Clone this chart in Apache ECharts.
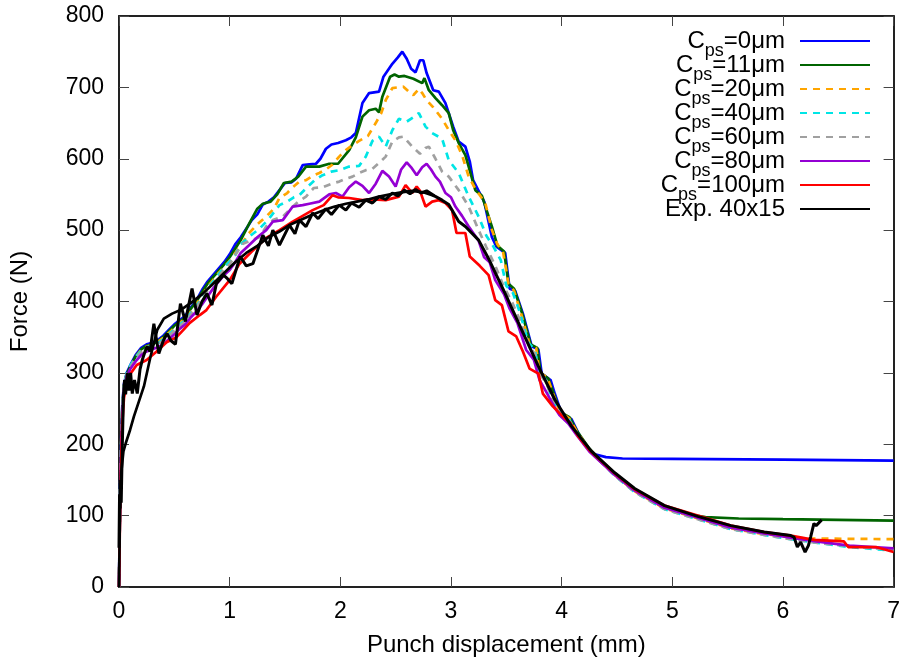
<!DOCTYPE html>
<html>
<head>
<meta charset="utf-8">
<script src="https://cdn.jsdelivr.net/npm/echarts@6/dist/echarts.min.js"></script>
<style>html,body{margin:0;padding:0;background:#fff}#c{width:903px;height:663px}</style>
</head>
<body>
<div id="c"></div>
<script>
const xTicks = [0,1,2,3,4,5,6,7];
const yTicks = [0,100,200,300,400,500,600,700,800];
const seriesNames = ['Cps=0μm','Cps=11μm','Cps=20μm','Cps=40μm','Cps=60μm','Cps=80μm','Cps=100μm','Exp. 40x15'];

const cps0 = [[0,0],[0.005,70],[0.01,140],[0.02,210],[0.03,255],[0.045,285],[0.07,300],[0.1,310],[0.15,325],[0.2,335],[0.25,340],[0.3,342],[0.35,346],[0.4,352],[0.45,360],[0.5,368],[0.55,374],[0.6,380],[0.65,392],[0.7,402],[0.75,416],[0.8,428],[0.85,437],[0.9,446],[0.95,455],[1.0,466],[1.05,480],[1.1,490],[1.15,502],[1.2,514],[1.25,522],[1.3,536],[1.35,540],[1.4,546],[1.45,556],[1.5,566],[1.56,567],[1.6,572],[1.66,591],[1.72,592],[1.78,593],[1.82,600],[1.87,614],[1.92,620],[1.98,622],[2.05,626],[2.1,630],[2.14,636],[2.2,678],[2.26,692],[2.35,694],[2.39,715],[2.47,733],[2.52,742],[2.56,750],[2.6,740],[2.64,726],[2.68,721],[2.72,738],[2.75,738],[2.78,720],[2.84,696],[2.89,694],[2.95,678],[3.02,645],[3.07,624],[3.13,617],[3.17,596],[3.2,570],[3.26,552],[3.3,540],[3.37,490],[3.41,477],[3.49,468],[3.53,418],[3.58,415],[3.65,383],[3.73,337],[3.79,333],[3.82,299],[3.9,290],[3.94,270],[4.0,243],[4.09,235],[4.15,216],[4.22,197],[4.3,186],[4.4,182],[4.55,180],[5,179.5],[6,178.5],[7,177]];
const cps11 = [[0,0],[0.005,65],[0.01,135],[0.02,205],[0.03,252],[0.045,283],[0.07,298],[0.1,308],[0.15,323],[0.2,333],[0.25,338],[0.3,340],[0.35,344],[0.4,350],[0.45,358],[0.5,366],[0.55,372],[0.6,378],[0.65,390],[0.7,400],[0.75,413],[0.8,425],[0.85,434],[0.9,443],[0.95,452],[1.0,462],[1.05,474],[1.1,486],[1.18,510],[1.25,530],[1.3,537],[1.37,540],[1.43,550],[1.49,566],[1.56,568],[1.62,575],[1.69,589],[1.81,589],[1.9,593],[1.98,593],[2.08,612],[2.14,630],[2.2,659],[2.26,668],[2.32,670],[2.35,665],[2.38,687],[2.45,715],[2.49,718],[2.53,715],[2.58,716],[2.66,712],[2.74,706],[2.76,713],[2.8,696],[2.86,685],[2.92,675],[2.98,664],[3.02,640],[3.07,622],[3.13,605],[3.16,589],[3.22,556],[3.28,548],[3.37,505],[3.42,478],[3.48,470],[3.52,425],[3.57,418],[3.64,385],[3.72,340],[3.78,335],[3.81,300],[3.88,292],[3.93,270],[3.99,245],[4.07,238],[4.14,218],[4.25,194],[4.4,170],[4.66,136],[4.93,112],[5.1,103],[5.3,98],[5.6,96],[6,95],[6.5,94],[7,93]];
const cps20 = [[0,0],[0.005,65],[0.01,135],[0.02,205],[0.03,250],[0.045,282],[0.07,298],[0.1,308],[0.15,322],[0.2,332],[0.25,337],[0.3,339],[0.35,343],[0.4,349],[0.45,356],[0.5,363],[0.55,370],[0.6,376],[0.65,386],[0.7,396],[0.75,408],[0.8,420],[0.85,430],[0.9,440],[0.95,448],[1.0,457],[1.05,468],[1.1,478],[1.17,495],[1.25,508],[1.33,519],[1.4,530],[1.45,545],[1.52,552],[1.57,560],[1.63,568],[1.69,570],[1.75,576],[1.81,580],[1.87,585],[1.93,592],[1.99,603],[2.05,612],[2.1,618],[2.17,625],[2.25,632],[2.32,650],[2.37,664],[2.41,682],[2.47,699],[2.52,700],[2.57,701],[2.62,694],[2.66,689],[2.71,698],[2.74,692],[2.78,682],[2.84,672],[2.92,656],[2.98,640],[3.04,626],[3.1,605],[3.16,575],[3.22,558],[3.31,538],[3.37,500],[3.42,480],[3.47,470],[3.52,425],[3.57,415],[3.63,385],[3.71,340],[3.77,335],[3.80,300],[3.87,294],[3.92,272],[3.98,246],[4.07,236],[4.14,217],[4.25,193],[4.48,157],[4.66,134],[4.93,110],[5.23,96],[5.53,82],[5.83,74],[6.07,70],[6.2,68],[7,67]];
const cps40 = [[0,0],[0.005,62],[0.01,130],[0.02,200],[0.03,248],[0.045,281],[0.07,300],[0.1,310],[0.15,322],[0.2,331],[0.25,336],[0.3,338],[0.35,341],[0.4,347],[0.45,354],[0.5,361],[0.55,368],[0.6,374],[0.65,384],[0.7,394],[0.75,405],[0.8,418],[0.85,428],[0.9,438],[0.95,448],[1.0,456],[1.05,465],[1.1,480],[1.17,490],[1.27,502],[1.35,515],[1.45,535],[1.52,540],[1.58,546],[1.63,549],[1.7,560],[1.77,570],[1.84,577],[1.92,582],[1.99,584],[2.08,589],[2.17,590],[2.23,603],[2.29,625],[2.35,631],[2.41,617],[2.47,640],[2.53,656],[2.6,652],[2.66,658],[2.71,664],[2.77,645],[2.83,636],[2.92,628],[2.98,598],[3.07,580],[3.16,547],[3.25,519],[3.32,492],[3.38,478],[3.45,458],[3.5,422],[3.56,412],[3.62,386],[3.7,342],[3.76,332],[3.79,302],[3.85,292],[3.9,270],[3.97,246],[4.07,234],[4.14,215],[4.25,192],[4.48,156],[4.66,133],[4.93,109],[5.23,95],[5.53,81],[5.83,73],[6.07,67],[6.3,62],[6.6,56],[7,51]];
const cps60 = [[0,0],[0.005,62],[0.01,128],[0.02,198],[0.03,246],[0.045,280],[0.07,298],[0.1,308],[0.15,320],[0.2,329],[0.25,334],[0.3,336],[0.35,340],[0.4,345],[0.45,352],[0.5,359],[0.55,366],[0.6,372],[0.65,382],[0.7,392],[0.75,403],[0.8,415],[0.85,425],[0.9,435],[0.95,445],[1.0,452],[1.05,465],[1.12,481],[1.2,486],[1.27,490],[1.33,505],[1.39,514],[1.48,519],[1.55,530],[1.62,540],[1.69,547],[1.76,559],[1.84,560],[1.92,565],[1.99,568],[2.05,572],[2.11,575],[2.17,580],[2.23,584],[2.29,586],[2.35,594],[2.41,603],[2.47,624],[2.53,630],[2.57,631],[2.65,617],[2.72,607],[2.77,615],[2.80,617],[2.86,600],[2.92,582],[2.98,575],[3.07,556],[3.16,533],[3.25,500],[3.32,476],[3.4,450],[3.48,420],[3.55,400],[3.62,375],[3.7,340],[3.76,326],[3.8,299],[3.86,286],[3.92,263],[3.99,243],[4.07,232],[4.14,214],[4.25,191],[4.48,156],[4.66,133],[4.93,109],[5.23,95],[5.53,81],[5.83,73],[6.07,67],[6.3,62],[6.6,57],[7,52]];
const cps80 = [[0,0],[0.005,60],[0.01,125],[0.02,195],[0.03,243],[0.045,278],[0.07,295],[0.1,305],[0.15,316],[0.2,325],[0.25,330],[0.3,333],[0.35,336],[0.4,340],[0.45,347],[0.5,354],[0.55,362],[0.6,368],[0.65,378],[0.7,386],[0.75,396],[0.8,407],[0.85,418],[0.9,428],[0.95,437],[1.0,444],[1.05,455],[1.1,468],[1.17,478],[1.25,490],[1.33,500],[1.39,512],[1.48,514],[1.57,533],[1.66,535],[1.72,537],[1.81,540],[1.9,550],[1.96,552],[2.02,547],[2.08,560],[2.14,568],[2.2,562],[2.26,552],[2.32,565],[2.38,583],[2.44,575],[2.5,561],[2.55,585],[2.6,595],[2.64,588],[2.69,577],[2.74,588],[2.78,593],[2.82,585],[2.86,575],[2.9,568],[2.95,552],[3.0,546],[3.04,533],[3.1,520],[3.16,505],[3.25,485],[3.3,462],[3.35,455],[3.4,430],[3.48,410],[3.53,390],[3.6,370],[3.68,332],[3.75,318],[3.8,290],[3.87,271],[3.92,256],[3.98,241],[4.06,229],[4.14,212],[4.25,190],[4.48,157],[4.66,135],[4.93,111],[5.23,97],[5.53,83],[5.83,75],[6.07,69],[6.3,64],[6.6,58],[7,54]];
const cps100 = [[0,0],[0.005,50],[0.01,110],[0.02,180],[0.03,230],[0.045,265],[0.07,285],[0.1,298],[0.16,311],[0.25,318],[0.34,330],[0.43,343],[0.52,350],[0.58,360],[0.64,370],[0.73,381],[0.79,388],[0.88,407],[1.0,430],[1.09,453],[1.2,470],[1.33,489],[1.45,500],[1.57,512],[1.66,520],[1.75,528],[1.85,535],[1.93,549],[1.98,546],[2.08,545],[2.2,542],[2.3,543],[2.41,542],[2.53,547],[2.59,563],[2.65,552],[2.69,561],[2.72,555],[2.77,533],[2.83,540],[2.89,542],[2.95,538],[2.98,533],[3.01,528],[3.05,496],[3.13,496],[3.17,463],[3.26,450],[3.34,437],[3.40,402],[3.46,395],[3.52,358],[3.59,351],[3.65,330],[3.71,306],[3.79,299],[3.83,271],[3.92,253],[4.01,239],[4.08,230],[4.15,211],[4.25,192],[4.48,159],[4.66,137],[4.93,114],[5.23,100],[5.53,86],[5.83,77],[6.07,72],[6.28,66],[6.55,64],[6.59,56],[6.84,56],[7,49]];
const expA = [[0,55],[0.005,130],[0.01,110],[0.015,150],[0.02,118],[0.03,200],[0.04,265],[0.05,290],[0.06,270],[0.075,300],[0.09,275],[0.105,300],[0.12,271],[0.14,290],[0.165,271],[0.19,305],[0.21,318],[0.24,332],[0.255,337],[0.28,330],[0.315,369],[0.36,327],[0.40,345],[0.435,355],[0.47,345],[0.51,340],[0.555,397],[0.6,372],[0.66,418],[0.705,381],[0.75,400],[0.795,411],[0.84,395],[0.88,425],[0.945,437],[0.98,432],[1.02,425],[1.095,463],[1.15,450],[1.21,453],[1.30,493],[1.35,478],[1.39,500],[1.45,479],[1.54,507],[1.59,495],[1.63,514],[1.69,505],[1.75,524],[1.8,516],[1.87,530],[1.92,522],[1.99,535],[2.05,528],[2.1,538],[2.17,532],[2.23,542],[2.29,538],[2.35,547],[2.41,543],[2.47,552],[2.52,548],[2.58,556],[2.63,551],[2.68,557],[2.73,552],[2.78,555],[2.85,548],[2.92,542],[2.98,536],[3.07,512],[3.13,505],[3.25,486],[3.34,460],[3.49,411],[3.64,360],[3.79,309],[3.94,262],[4.09,225],[4.27,190],[4.48,160],[4.66,138],[4.93,114],[5.23,99],[5.53,86],[5.83,77],[6.07,72],[6.1,70],[6.13,56],[6.16,63],[6.2,49],[6.23,58],[6.25,70],[6.28,89],[6.3,86],[6.35,94]];
const expB = [[0,0],[0.005,60],[0.01,120],[0.02,160],[0.04,190],[0.06,201],[0.1,220],[0.135,239],[0.18,260],[0.225,281],[0.285,323],[0.345,360],[0.405,376],[0.48,383],[0.555,388],[0.65,398],[0.75,410],[0.85,425],[0.95,440],[1.05,455],[1.15,468],[1.25,478],[1.35,490],[1.45,498],[1.55,508],[1.65,515],[1.75,522],[1.85,528],[1.95,533],[2.05,537],[2.15,540],[2.25,543],[2.35,547],[2.45,550],[2.55,553],[2.65,555],[2.75,553],[2.85,548]];

const colors = ['#0000ff','#006400','#ffa500','#00e5e5','#a0a0a0','#9400d3','#ff0000','#000000'];
const dashed = [false,false,true,true,true,false,false,false];
const dataSets = [cps0,cps11,cps20,cps40,cps60,cps80,cps100,expA];

const FONT = 'Liberation Sans, Arial, sans-serif';
const FS = 23;
const LFS = 24;
const chart = echarts.init(document.getElementById('c'), null, {renderer:'canvas'});

const series = dataSets.map((d,i) => ({
  name: seriesNames[i], type:'line', data:d, xAxisIndex:0, yAxisIndex:0,
  showSymbol:false, symbol:'none', smooth:false, animation:false,
  lineStyle:{color:colors[i], width: i===7?3:2.7, type: dashed[i]?[7,6]:'solid'},
  itemStyle:{color:colors[i]}, z: 2+i
}));
series.push({
  name: seriesNames[7], type:'line', data:expB, xAxisIndex:0, yAxisIndex:0,
  showSymbol:false, symbol:'none', animation:false,
  lineStyle:{color:'#000', width:2.7}, itemStyle:{color:'#000'}, z: 10
});

const tickStyle = {show:true, inside:true, length:10, lineStyle:{color:'#444', width:1}};
const axisLine = {show:true, onZero:false, lineStyle:{color:'#222', width:2}};

chart.setOption({
  backgroundColor:'#fff',
  animation:false,
  grid:{left:119, right:6, top:16, bottom:76, containLabel:false},
  legend:{
    data: seriesNames, orient:'vertical', right:32, top:29, align:'right',
    padding:0, itemWidth:70, itemHeight:12, itemGap:-7,
    itemStyle:{opacity:0},
    textStyle:{
      fontFamily:FONT, fontSize:LFS, color:'#000', padding:[0,10,0,0],
      rich:{
        c:{fontFamily:FONT, fontSize:LFS, lineHeight:38, verticalAlign:'middle', color:'#000'},
        s:{fontFamily:FONT, fontSize:18, lineHeight:21, verticalAlign:'bottom', color:'#000'}
      }
    },
    formatter: function(name){
      if (name.indexOf('Cps') === 0) return '{c|C}{s|ps}{c|' + name.slice(3) + '}';
      return '{c|' + name + '}';
    },
    selectedMode:false
  },
  xAxis:[
    {type:'value', min:0, max:7, interval:1, position:'bottom',
     name:'Punch displacement (mm)', nameLocation:'middle', nameGap:46,
     nameTextStyle:{fontFamily:FONT, fontSize:24, color:'#000'},
     axisLine:axisLine, axisTick:tickStyle, splitLine:{show:false},
     axisLabel:{fontFamily:FONT, fontSize:FS, color:'#000', margin:13,
       formatter: v => xTicks.includes(v) ? String(v) : ''}},
    {type:'value', min:0, max:7, interval:1, position:'top',
     axisLine:axisLine, axisTick:tickStyle, splitLine:{show:false}, axisLabel:{show:false}}
  ],
  yAxis:[
    {type:'value', min:0, max:800, interval:100, position:'left',
     name:'Force (N)', nameLocation:'middle', nameGap:87,
     nameTextStyle:{fontFamily:FONT, fontSize:24, color:'#000'},
     axisLine:axisLine, axisTick:tickStyle, splitLine:{show:false},
     axisLabel:{fontFamily:FONT, fontSize:FS, color:'#000', margin:15,
       formatter: v => yTicks.includes(v) ? String(v) : ''}},
    {type:'value', min:0, max:800, interval:100, position:'right',
     axisLine:axisLine, axisTick:tickStyle, splitLine:{show:false}, axisLabel:{show:false}}
  ],
  series: series
});
</script>
</body>
</html>
